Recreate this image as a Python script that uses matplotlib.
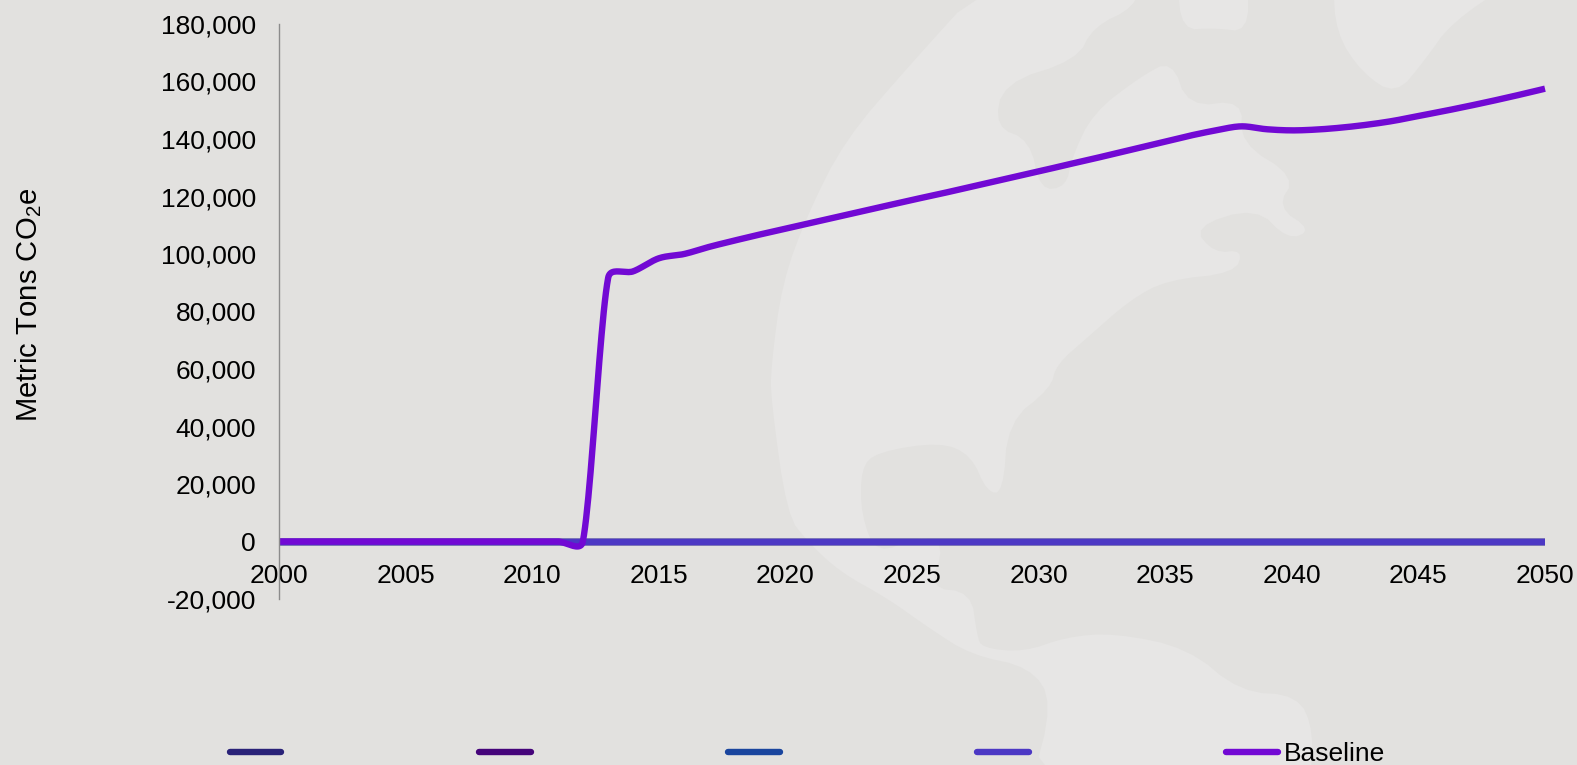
import numpy as np
import matplotlib
matplotlib.use('Agg')
import matplotlib.pyplot as plt
from matplotlib.patches import Polygon

plt.rcParams['font.family'] = ['Liberation Sans', 'DejaVu Sans']
plt.rcParams['mathtext.default'] = 'regular'

# Values, one per year
years = list(range(2000, 2051))
baseline = [0, 0, 0, 0, 0, 0, 0, 0, 0, 0, 0, 0, 0,
            91700, 94000, 98500, 100000, 102500, 104700, 106800, 108800,
            110800, 112800, 114800, 116800, 118800, 120700, 122700, 124700,
            126700, 128700, 130800, 132800, 134900, 137000, 139100, 141200,
            143000, 144400, 143400, 143000, 143300, 144000, 145000, 146300,
            148000, 149700, 151500, 153400, 155400, 157500]
zero_series = [0] * 51
hidden_colors = ['#2a2278', '#45047a', '#1a459e', '#4c38c4']
baseline_color = '#7209d4'
yticks = list(range(-20000, 180001, 20000))
xticks = list(range(2000, 2051, 5))

W, H = 1577, 765
BG = '#e2e1df'
LAND = '#e7e6e5'
FS = 19

# faint map behind the chart, traced in pixel coordinates
america = [(987, -20), (908, 67), (845, 140), (808, 213), (782, 283), (771, 367), (771, 400), (787, 515),
           (808, 542), (840, 572), (887, 598), (929, 628), (971, 655), (1030, 667), (1053, 702), (1030, 790),
           (1309, 790), (1314, 732), (1298, 695), (1240, 692), (1188, 648), (1114, 633), (1066, 637), (1024, 652),
           (982, 648), (977, 635), (971, 592), (929, 588), (945, 545), (919, 535), (877, 555), (861, 515),
           (861, 468), (877, 452), (940, 442), (971, 455), (987, 492), (1003, 493), (1008, 422), (1051, 388),
           (1056, 365), (1088, 337), (1130, 300), (1167, 280), (1235, 273), (1243, 250), (1214, 253), (1193, 227),
           (1256, 207), (1288, 240), (1312, 230), (1277, 207), (1296, 177), (1240, 143), (1243, 100), (1188, 107),
           (1172, 60), (1140, 77), (1093, 113), (1072, 157), (1066, 187), (1040, 190), (1030, 140), (995, 127),
           (1003, 83), (1077, 60), (1093, 27), (1135, 7), (1140, -20)]
arctic = [(1177, -20), (1248, -20), (1248, 32), (1214, 28), (1182, 30)]
greenland = [(1333, -20), (1336, 33), (1362, 73), (1396, 95), (1425, 60), (1451, 23), (1515, -20)]


def chaikin(pts, rounds=2):
    pts = np.array(pts, dtype=float)
    for _ in range(rounds):
        nxt = np.roll(pts, -1, axis=0)
        pts = np.column_stack([0.75 * pts + 0.25 * nxt, 0.25 * pts + 0.75 * nxt]).reshape(-1, 2)
    return pts


def smooth(xs, ys, sx, sy, n=24):
    # Smoothed line like the spreadsheet one, tangents worked out in pixel space
    px = np.array(xs, dtype=float) * sx
    py = np.array(ys, dtype=float) * sy
    out_x, out_y = [], []
    last = len(px) - 1

    def handle(d, seg):
        d = d / 6
        length = np.hypot(*d)
        if length > 0.45 * seg:
            d = d * 0.45 * seg / length
        return d

    for i in range(last):
        p0 = np.array([px[max(i - 1, 0)], py[max(i - 1, 0)]])
        p1 = np.array([px[i], py[i]])
        p2 = np.array([px[i + 1], py[i + 1]])
        p3 = np.array([px[min(i + 2, last)], py[min(i + 2, last)]])
        seg = np.hypot(*(p2 - p1))
        c1 = p1 + handle(p2 - p0, seg)
        c2 = p2 - handle(p3 - p1, seg)
        t = np.linspace(0, 1, n)[:, None]
        b = (1 - t)**3 * p1 + 3 * (1 - t)**2 * t * c1 + 3 * (1 - t) * t**2 * c2 + t**3 * p2
        out_x.extend(b[:, 0] / sx)
        out_y.extend(b[:, 1] / sy)
    return out_x, out_y


fig = plt.figure(figsize=(W / 100, H / 100), dpi=100, facecolor=BG)

bg = fig.add_axes([0, 0, 1, 1], zorder=0)
bg.set_xlim(0, W)
bg.set_ylim(H, 0)
bg.axis('off')
for pts in [america, arctic, greenland]:
    bg.add_patch(Polygon(chaikin(pts), closed=True, facecolor=LAND, lw=0))

ax = fig.add_axes([279 / W, 1 - 599 / H, (1545 - 279) / W, (599 - 24) / H], zorder=1)
ax.patch.set_alpha(0)
ax.set_xlim(2000, 2050)
ax.set_ylim(-20000, 180000)
sx = (1545 - 279) / 50
sy = (599 - 24) / 200000

handles = []
for c in hidden_colors:
    ln, = ax.plot(years, zero_series, color=c, lw=4.6, solid_capstyle='butt', clip_on=False)
    handles.append(ln)
sm_x, sm_y = smooth(years, baseline, sx, sy)
ln, = ax.plot(sm_x, sm_y, color=baseline_color, lw=4.6, solid_capstyle='butt', clip_on=False)
handles.append(ln)

for s in ['top', 'right']:
    ax.spines[s].set_visible(False)
# x axis crosses at zero, its line is hidden under the series
ax.spines['bottom'].set_position(('data', 0))
ax.spines['bottom'].set_color('none')
ax.spines['left'].set_color('#8c8c8c')
ax.spines['left'].set_linewidth(1)

ax.set_yticks(yticks)
ax.set_yticklabels([f'{v:,}' for v in yticks], fontsize=FS, color='black')
ax.set_xticks(xticks)
ax.set_xticklabels([str(v) for v in xticks], fontsize=FS, color='black')
ax.tick_params(axis='both', length=0)
ax.tick_params(axis='y', pad=16.5)
ax.tick_params(axis='x', pad=16.5)

fig.text(29 / W, 1 - 305 / H, 'Metric Tons CO$_2$e', rotation=90, fontsize=21.1,
         ha='center', va='center')

leg = fig.legend(handles, [' ', ' ', ' ', ' ', 'Baseline'], ncol=5, frameon=False, fontsize=FS,
                 loc='lower left', bbox_to_anchor=(230 / W, -1 / H), borderpad=0, borderaxespad=0,
                 handlelength=1.95, handletextpad=0.21, columnspacing=7.0)
for line in leg.get_lines():
    line.set_solid_capstyle('round')

fig.savefig('out.png', dpi=100, facecolor=BG)
